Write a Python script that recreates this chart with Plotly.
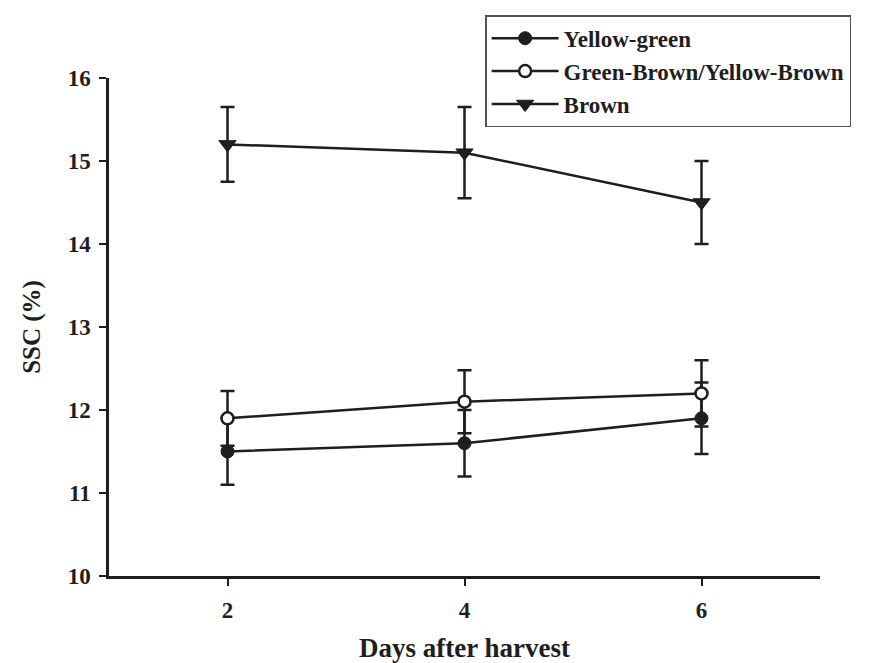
import plotly.graph_objects as go

days = [2, 4, 6]
yellow_green = [11.5, 11.6, 11.9]
yellow_green_err = [0.4, 0.4, 0.43]
green_brown = [11.9, 12.1, 12.2]
green_brown_err = [0.33, 0.38, 0.4]
brown = [15.2, 15.1, 14.5]
brown_err = [0.45, 0.55, 0.5]
y_ticks = [10, 11, 12, 13, 14, 15, 16]
x_ticks = [2, 4, 6]

INK = "#1e1e1e"
FONT = "Liberation Serif"

def err(a):
    return dict(type="data", array=a, visible=True, thickness=2.5, width=7, color=INK)

fig = go.Figure()
fig.add_trace(go.Scatter(
    x=days, y=yellow_green, error_y=err(yellow_green_err), mode="lines+markers",
    name="Yellow-green", line=dict(color=INK, width=2.5),
    marker=dict(symbol="circle", size=13, color=INK, line=dict(color=INK, width=1))))
fig.add_trace(go.Scatter(
    x=days, y=green_brown, error_y=err(green_brown_err), mode="lines+markers",
    name="Green-Brown/Yellow-Brown", line=dict(color=INK, width=2.5),
    marker=dict(symbol="circle", size=12, color="white", line=dict(color=INK, width=2.5))))
fig.add_trace(go.Scatter(
    x=days, y=brown, error_y=err(brown_err), mode="lines+markers",
    name="Brown", line=dict(color=INK, width=2.5),
    marker=dict(symbol="triangle-down", size=15, color=INK, line=dict(color=INK, width=1))))

# page body has an 8px margin, so the figure is 862x655 and offset accordingly
fig.update_layout(
    width=862, height=655,
    margin=dict(l=101, r=50, t=70, b=87, autoexpand=False),
    paper_bgcolor="white", plot_bgcolor="white",
    font=dict(family=FONT, color=INK, size=22, weight="bold"),
    showlegend=True,
    legend=dict(
        x=0.529, y=1.126, xanchor="left", yanchor="top",
        bordercolor="#555", borderwidth=1.5, bgcolor="white",
        font=dict(family=FONT, size=23, color=INK, weight="bold"),
        itemwidth=67, tracegroupgap=0,
    ),
    xaxis=dict(
        range=[1, 7], tickvals=x_ticks, ticks="outside", ticklen=7, tickwidth=2,
        tickcolor=INK, showline=True, linecolor=INK, linewidth=2.5,
        showgrid=False, zeroline=False, ticklabelstandoff=5, automargin=False,
        tickfont=dict(size=23, family=FONT, weight="bold"),
        title=dict(text="Days after harvest", standoff=18,
                   font=dict(size=27, family=FONT, weight="bold")),
    ),
    yaxis=dict(
        range=[10, 16], tickvals=y_ticks, ticks="outside", ticklen=7, tickwidth=2,
        tickcolor=INK, showline=True, linecolor=INK, linewidth=2.5,
        showgrid=False, zeroline=False, ticklabelstandoff=4, automargin=False,
        tickfont=dict(size=23, family=FONT, weight="bold"),
        title=dict(text="SSC (%)", standoff=20,
                   font=dict(size=25, family=FONT, weight="bold")),
    ),
)

fig.write_html("out.html")
